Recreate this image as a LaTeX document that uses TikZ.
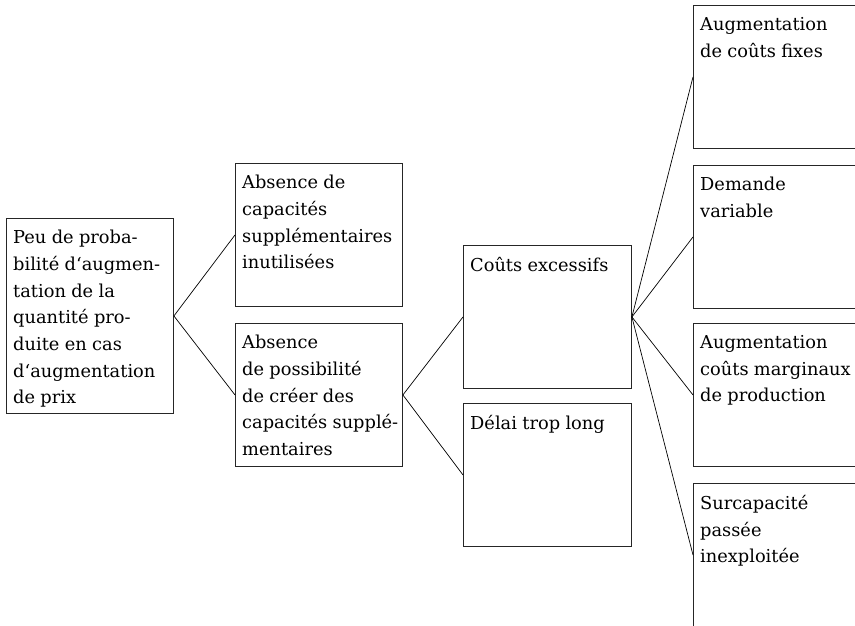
\documentclass[tikz,border=0pt]{standalone}
\usepackage{fontspec}
\setmainfont{DejaVu Serif}[WordSpace={0.95,0.5,0.3}]
\begin{document}
\begin{tikzpicture}[x=1pt,y=-1pt,
  box/.style={draw=black!85, line width=0.9pt, rectangle, anchor=north west, inner sep=0pt, minimum width=167pt, minimum height=143pt},
  txt/.style={anchor=north west, align=left, inner sep=0pt, font=\fontsize{17.8}{26.7}\selectfont},
  conn/.style={draw=black, line width=0.7pt}]
\useasboundingbox (0,0) rectangle (855,625);
\clip (0,0) rectangle (855,625);
% boxes
\node[box, minimum height=195pt] (root) at (6,218) {};
\node[box] (a) at (235,163) {};
\node[box] (b) at (235,323) {};
\node[box, minimum width=168pt] (c) at (463,245) {};
\node[box, minimum width=168pt] (d) at (463,403) {};
\node[box, minimum width=180pt] (e1) at (693,5) {};
\node[box, minimum width=180pt] (e2) at (693,165) {};
\node[box, minimum width=180pt] (e3) at (693,323) {};
\node[box, minimum width=180pt] (e4) at (693,483) {};
% texts
\node[txt] (troot) at ([xshift=7pt,yshift=-12pt]root.north west) {Peu de proba-\\bilité d‘augmen-\\tation de la\\quantité pro-\\duite en cas\\d‘augmentation\\de prix};
\node[txt] (ta) at ([xshift=7pt,yshift=-12pt]a.north west) {Absence de\\capacités\\supplémentaires\\inutilisées};
\node[txt] (tb) at ([xshift=7pt,yshift=-12pt]b.north west) {Absence\\de possibilité\\de créer des\\capacités supplé-\\mentaires};
\node[txt] (tc) at ([xshift=7pt,yshift=-12pt]c.north west) {Coûts excessifs};
\node[txt] (td) at ([xshift=7pt,yshift=-12pt]d.north west) {Délai trop long};
\node[txt] (te1) at ([xshift=7pt,yshift=-12pt]e1.north west) {Augmentation\\de coûts fixes};
\node[txt] (te2) at ([xshift=7pt,yshift=-12pt]e2.north west) {Demande\\variable};
\node[txt] (te3) at ([xshift=7pt,yshift=-12pt]e3.north west) {Augmentation\\coûts marginaux\\de production};
\node[txt] (te4) at ([xshift=7pt,yshift=-12pt]e4.north west) {Surcapacité\\passée\\inexploitée};
% connectors
\draw[conn] (root.east) -- (a.west);
\draw[conn] (root.east) -- (b.west);
\draw[conn] (b.east) -- (c.west);
\draw[conn] (b.east) -- (d.west);
\draw[conn] (c.east) -- (e1.west);
\draw[conn] (c.east) -- (e2.west);
\draw[conn] (c.east) -- (e3.west);
\draw[conn] (c.east) -- (e4.west);
\end{tikzpicture}
\end{document}
